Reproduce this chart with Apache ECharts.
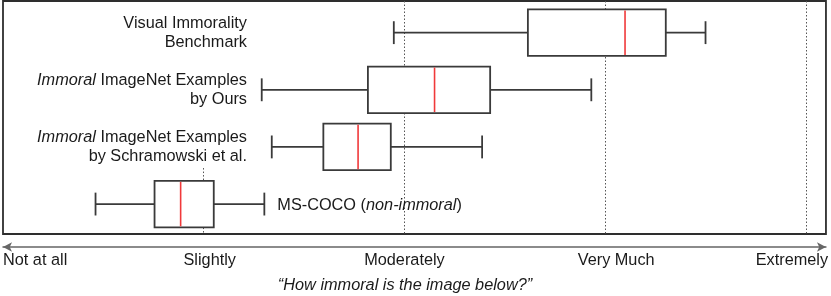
<!DOCTYPE html>
<html>
<head>
<meta charset="utf-8">
<script src="https://cdn.jsdelivr.net/npm/echarts@6/dist/echarts.min.js"></script>
<style>
  html, body { margin: 0; padding: 0; background: #fff; }
  #chart { width: 831px; height: 296px; }
</style>
</head>
<body>
<div id="chart"></div>
<script>
// ---- data ----
const categories = [
  'Visual Immorality\nBenchmark',
  '{i|Immoral} ImageNet Examples\nby Ours',
  '{i|Immoral} ImageNet Examples\nby Schramowski et al.',
  'MS-COCO ({i|non-immoral})'
];
// [min, Q1, median, Q3, max] on the 1..5 rating scale
const visualImmorality = [2.947, 3.615, 4.099, 4.302, 4.500];
const immoralOurs      = [2.289, 2.818, 3.150, 3.427, 3.931];
const immoralSchram    = [2.339, 2.596, 2.769, 2.932, 3.387];
const msCoco           = [1.461, 1.755, 1.885, 2.050, 2.302];
const tickLabels = ['Not at all', 'Slightly', 'Moderately', 'Very Much', 'Extremely'];
const axisTitle = '\u201CHow immoral is the image below?\u201D';
const guideLevels = [3, 4, 5];       // full-height dotted guides
const partialGuideLevel = 2;          // short dotted guide (Slightly)

const boxes = [visualImmorality, immoralOurs, immoralSchram, msCoco];
const boxData = boxes.map((b, i) => [i].concat(b));

const FONT = '"Liberation Sans", Arial, Helvetica, sans-serif';
const FS = 16.3;
const Y_MIN = -0.554, Y_MAX = 3.524;

const chart = echarts.init(document.getElementById('chart'), null, { renderer: 'canvas' });

const tickRich = {
  t0: { fontSize: FS, fontFamily: FONT, color: '#1a1a1a' },
  t1: { fontSize: FS, fontFamily: FONT, color: '#1a1a1a', padding: [0, 0, 0, 12] },
  t2: { fontSize: FS, fontFamily: FONT, color: '#1a1a1a' },
  t3: { fontSize: FS, fontFamily: FONT, color: '#1a1a1a', padding: [0, 0, 0, 22] },
  t4: { fontSize: FS, fontFamily: FONT, color: '#1a1a1a', padding: [0, 28, 0, 0] }
};

function renderBox(params, api) {
  const row = api.value(0);
  const lo = api.value(1), q1 = api.value(2), med = api.value(3), q3 = api.value(4), hi = api.value(5);
  const pLo = api.coord([lo, row]);
  const pQ1 = api.coord([q1, row]);
  const pMed = api.coord([med, row]);
  const pQ3 = api.coord([q3, row]);
  const pHi = api.coord([hi, row]);
  const y = pLo[1];
  const unit = api.size([0, 1])[1];
  const bh = unit * 0.407;
  const ch = unit * 0.2;
  const stroke = { stroke: '#3a3a3a', lineWidth: 1.8 };
  const label = categories[params.dataIndex];
  const baseText = { fontSize: FS, fontFamily: FONT, fill: '#1a1a1a' };
  const rich = { i: { fontSize: FS, fontFamily: FONT, fontStyle: 'italic', fill: '#1a1a1a' } };
  const onLeft = params.dataIndex < 3;
  return {
    type: 'group',
    children: [
      { type: 'line', shape: { x1: pLo[0], y1: y, x2: pQ1[0], y2: y }, style: stroke },
      { type: 'line', shape: { x1: pQ3[0], y1: y, x2: pHi[0], y2: y }, style: stroke },
      { type: 'line', shape: { x1: pLo[0], y1: y - ch, x2: pLo[0], y2: y + ch }, style: stroke },
      { type: 'line', shape: { x1: pHi[0], y1: y - ch, x2: pHi[0], y2: y + ch }, style: stroke },
      { type: 'rect', shape: { x: pQ1[0], y: y - bh, width: pQ3[0] - pQ1[0], height: 2 * bh },
        style: { fill: '#fff', stroke: '#3a3a3a', lineWidth: 1.8 } },
      { type: 'line', shape: { x1: pMed[0], y1: y - bh + 1, x2: pMed[0], y2: y + bh - 1 },
        style: { stroke: '#f0393a', lineWidth: 1.6 } },
      { type: 'text',
        x: onLeft ? 247 : pHi[0] + 13,
        y: y + (onLeft ? 0 : 1.5),
        style: Object.assign({}, baseText, {
          text: label, rich: rich, lineHeight: 19,
          align: onLeft ? 'right' : 'left', verticalAlign: 'middle'
        }) }
    ]
  };
}

chart.setOption({
  animation: false,
  backgroundColor: '#fff',
  title: {
    text: axisTitle,
    left: 405, top: 277, padding: 0,
    textAlign: 'center',
    textStyle: { fontSize: FS, fontFamily: FONT, fontStyle: 'italic', fontWeight: 'normal', color: '#1a1a1a' }
  },
  grid: {
    left: 0, right: 2, top: 1, bottom: 62,
    show: true, borderColor: '#2e2e2e', borderWidth: 1.8, backgroundColor: 'transparent'
  },
  xAxis: {
    type: 'value', min: 1, max: 5.1, interval: 1,
    offset: 13,
    splitLine: { show: false },
    axisTick: { show: false },
    axisLine: {
      show: true, onZero: false,
      symbol: ['arrow', 'arrow'], symbolSize: [7, 9],
      lineStyle: { color: '#666', width: 1.5 }
    },
    axisLabel: {
      margin: 6,
      alignMinLabel: 'left',
      showMaxLabel: true,
      formatter: function (v) {
        const k = Math.round(v) - 1;
        if (Math.abs(v - Math.round(v)) > 1e-6 || k < 0 || k >= tickLabels.length) return '';
        return '{t' + k + '|' + tickLabels[k] + '}';
      },
      rich: tickRich,
      fontSize: FS, fontFamily: FONT, color: '#1a1a1a'
    }
  },
  yAxis: {
    type: 'value', inverse: true, min: Y_MIN, max: Y_MAX,
    show: false, splitLine: { show: false }
  },
  series: [
    {
      type: 'line', data: [], silent: true,
      markLine: {
        silent: true, symbol: ['none', 'none'], animation: false,
        label: { show: false },
        lineStyle: { color: '#555', width: 1, type: [1.5, 2] },
        data: guideLevels.map(v => ({ xAxis: v })).concat([
          [{ coord: [partialGuideLevel, 2.37] }, { coord: [partialGuideLevel, Y_MAX] }]
        ])
      }
    },
    {
      type: 'custom',
      renderItem: renderBox,
      data: boxData,
      encode: { x: [1, 2, 3, 4, 5], y: 0 },
      clip: false,
      z: 5
    }
  ]
});
</script>
</body>
</html>
